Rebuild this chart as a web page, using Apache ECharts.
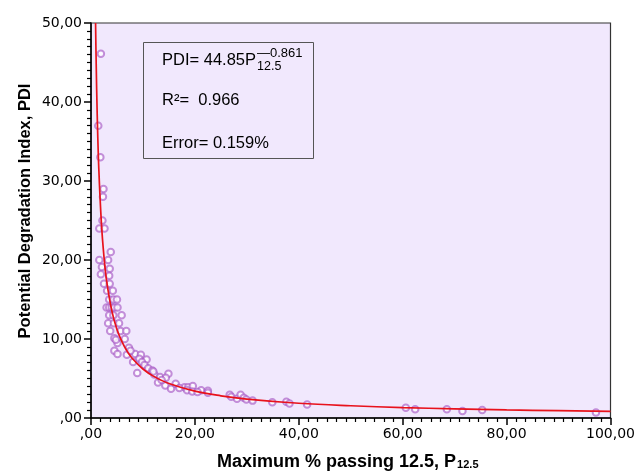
<!DOCTYPE html>
<html>
<head>
<meta charset="utf-8">
<script src="https://cdn.jsdelivr.net/npm/echarts@6/dist/echarts.min.js"></script>
<style>
html,body{margin:0;padding:0;background:#fff;}
#c{width:638px;height:472px;}
</style>
</head>
<body>
<div id="c"></div>
<script>
// ---- data ----
// measured points: P12.5 (x) and PDI (y)
var pointX = [1.9,1.4,1.8,2.4,2.3,2.2,1.6,2.6,3.8,1.6,3.3,2.1,3.6,1.9,3.5,2.5,3.6,3.1,4.2,3.5,4.3,5.0,3.0,3.5,4.0,4.5,5.1,3.5,4.3,5.9,3.3,4.4,5.4,3.7,5.7,6.8,4.5,6.5,5.1,4.5,5.1,4.8,7.3,6.9,8.5,9.6,9.3,10.7,8.1,9.8,10.3,8.9,11.0,11.8,12.2,13.3,14.9,14.4,12.9,14.3,15.4,16.3,18.0,18.7,19.6,18.5,19.5,21.2,22.5,22.5,26.7,27.0,28.1,28.8,29.4,29.9,31.1,34.9,37.6,38.2,41.6,60.6,62.4,68.5,71.5,75.3,97.2,7.6,12.0,13.6,17.0,20.5];
var pointY = [46.1,37.0,33.0,29.0,28.0,25.0,24.0,24.0,21.0,20.0,20.0,19.1,18.9,18.2,18.0,17.0,17.0,16.1,16.1,15.0,15.0,15.0,14.0,14.0,14.0,14.0,14.0,13.0,13.0,13.0,12.0,12.0,12.0,11.0,11.0,11.0,10.1,10.0,9.5,8.5,8.1,9.9,8.9,8.0,8.1,8.0,7.5,7.4,7.1,7.1,6.7,5.7,6.3,6.0,5.5,5.2,5.6,5.1,4.5,4.1,3.7,4.35,3.9,3.9,4.05,3.5,3.35,3.5,3.45,3.2,2.95,2.7,2.45,2.95,2.55,2.35,2.2,2.0,2.05,1.85,1.7,1.3,1.1,1.1,0.9,1.0,0.7,8.5,5.9,4.8,3.8,3.3];
// fitted curve
var curveX = [0.88,1,1.2,1.5,2,2.5,3,4,5,6,7,8,10,12,15,20,25,30,40,50,60,70,80,90,100];
var curveY = [50.0,44.85,38.3,31.6,24.7,20.4,17.4,13.6,11.2,9.6,8.4,7.5,6.2,5.3,4.36,3.40,2.81,2.40,1.87,1.55,1.32,1.16,1.03,0.93,0.85];
// tick labels
var xTickLabels = [",00","20,00","40,00","60,00","80,00","100,00"];
var yTickLabels = [",00","10,00","20,00","30,00","40,00","50,00"];
// annotation texts
var eqMain = "PDI= 44.85P";
var eqSup = "\u20140.861";
var eqSub = "12.5";
var r2Text = "R\u00B2=  0.966";
var errText = "Error= 0.159%";
var yTitle = "Potential Degradation Index, PDI";
var xTitleMain = "Maximum % passing 12.5, P";
var xTitleSub = "12.5";

var scatterData = pointX.map(function(x,i){return [x,pointY[i]];});
var curveData = curveX.map(function(x,i){return [x,curveY[i]];});

var chart = echarts.init(document.getElementById('c'), null, {renderer:'canvas'});
var bg = '#F1E8FD';
var FONT = 'Liberation Sans, Arial, sans-serif';
var option = {
  animation:false,
  backgroundColor:'#fff',
  grid:{left:91,right:27,top:23,bottom:54,show:true,backgroundColor:bg,borderColor:'#333',borderWidth:1.2},
  xAxis:{
    type:'value',min:0,max:100,interval:20,position:'bottom',
    axisLine:{show:true,onZero:false,lineStyle:{color:'#000',width:1.5}},
    axisTick:{show:true,inside:false,length:7,lineStyle:{color:'#000',width:1.5}},
    minorTick:{show:true,splitNumber:11,length:4,lineStyle:{color:'#000',width:1.2}},
    splitLine:{show:false},
    axisLabel:{margin:9,color:'#000',fontSize:14,fontFamily:'DejaVu Sans',
      formatter:function(v){return xTickLabels[Math.round(v/20)];}}
  },
  yAxis:{
    type:'value',min:0,max:50,interval:10,position:'left',
    axisLine:{show:true,onZero:false,lineStyle:{color:'#000',width:1.5}},
    axisTick:{show:true,inside:false,length:7,lineStyle:{color:'#000',width:1.5}},
    minorTick:{show:true,splitNumber:10,length:4,lineStyle:{color:'#000',width:1.2}},
    splitLine:{show:false},
    axisLabel:{margin:9,color:'#000',fontSize:14,fontFamily:'DejaVu Sans',
      formatter:function(v){return yTickLabels[Math.round(v/10)];}}
  },
  series:[
    {type:'scatter',data:scatterData,symbol:'emptyCircle',symbolSize:6.5,
     itemStyle:{color:'rgba(165,85,195,0.8)',borderColor:'rgba(165,85,195,0.8)',borderWidth:0.9},z:2},
    {type:'line',data:curveData,smooth:0.4,showSymbol:false,symbol:'none',clip:true,
     lineStyle:{color:'#E8121C',width:1.7},z:3}
  ],
  graphic:[
    {type:'rect',shape:{x:143.5,y:42.5,width:170,height:116},style:{fill:bg,stroke:'#555',lineWidth:1},z:10},
    {type:'text',x:162,y:60,style:{text:eqMain,font:'16.5px '+FONT,fill:'#000',textVerticalAlign:'middle'},z:11},
    {type:'text',x:257,y:53,style:{text:eqSup,font:'13px '+FONT,fill:'#000',textVerticalAlign:'middle'},z:11},
    {type:'text',x:257,y:67,style:{text:eqSub,font:'12.5px '+FONT,fill:'#000',textVerticalAlign:'middle'},z:11},
    {type:'text',x:162,y:100,style:{text:r2Text,font:'16.5px '+FONT,fill:'#000',textVerticalAlign:'middle'},z:11},
    {type:'text',x:162,y:143,style:{text:errText,font:'16.5px '+FONT,fill:'#000',textVerticalAlign:'middle'},z:11},
    {type:'text',x:25,y:211,rotation:Math.PI/2,style:{text:yTitle,font:'bold 16.5px '+FONT,fill:'#000',textAlign:'center',textVerticalAlign:'middle'},z:11},
    {type:'text',x:217,y:462,style:{text:xTitleMain,font:'bold 18px '+FONT,fill:'#000',textVerticalAlign:'middle'},z:11}
  ]
};
chart.setOption(option);
var ctx = document.createElement('canvas').getContext('2d');
ctx.font = 'bold 18px ' + FONT;
var tw = ctx.measureText(xTitleMain).width;
chart.setOption({graphic:[{type:'text',id:'xtsub',x:217+tw+1,y:465,style:{text:xTitleSub,font:'bold 11px '+FONT,fill:'#000',textVerticalAlign:'middle'},z:11}]});
</script>
</body>
</html>
